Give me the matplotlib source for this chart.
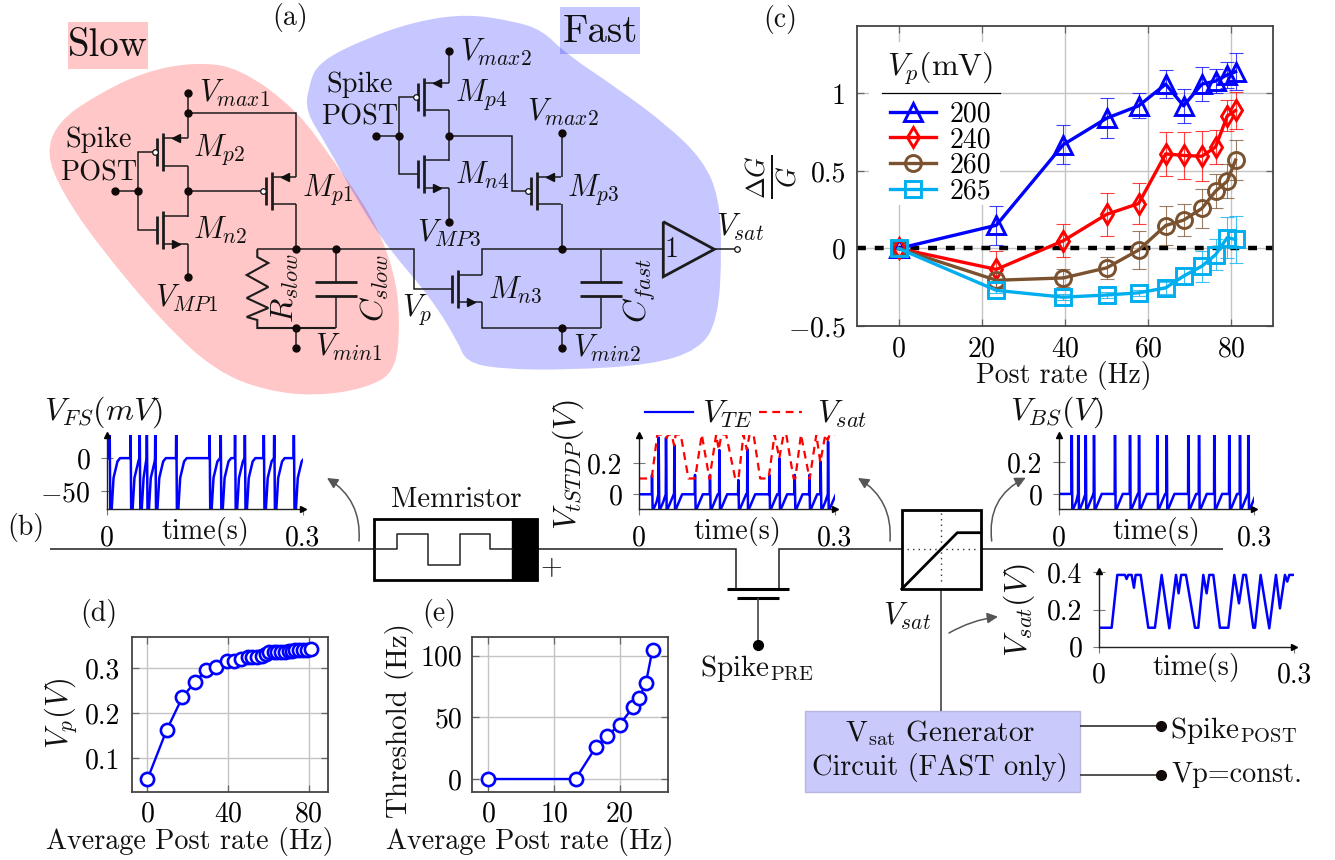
import matplotlib
matplotlib.use('Agg')
import matplotlib.pyplot as plt
from matplotlib.path import Path
from matplotlib.patches import PathPatch, Rectangle

W, H = 1335, 860
plt.rcParams['font.family'] = ['cmr10', 'DejaVu Serif']
plt.rcParams['mathtext.fontset'] = 'cm'
plt.rcParams['axes.unicode_minus'] = False
plt.rcParams['axes.formatter.use_mathtext'] = True

# panel (c)
rate = [0, 23.5, 39.6, 50, 57.7, 64.2, 68.5, 72.9, 76.2, 79, 81]
g200 = [0, 0.15, 0.67, 0.84, 0.92, 1.06, 0.92, 1.06, 1.08, 1.12, 1.14]
g240 = [0, -0.135, 0.05, 0.22, 0.29, 0.61, 0.60, 0.595, 0.655, 0.855, 0.89]
g260 = [0, -0.205, -0.19, -0.125, -0.01, 0.148, 0.183, 0.258, 0.37, 0.434, 0.57]
g265 = [0, -0.27, -0.314, -0.30, -0.286, -0.254, -0.178, -0.114, -0.04, 0.07, 0.058]
e200 = [0, 0.125, 0.125, 0.13, 0.08, 0.09, 0.11, 0.11, 0.08, 0.085, 0.12]
e240 = [0, 0.12, 0.105, 0.14, 0.13, 0.14, 0.15, 0.16, 0.11, 0.10, 0.12]
e260 = [0, 0.05, 0.06, 0.07, 0.125, 0.125, 0.105, 0.125, 0.11, 0.11, 0.13]
e265 = [0, 0.02, 0.02, 0.02, 0.02, 0.04, 0.05, 0.10, 0.10, 0.13, 0.15]

# panel (d)
d_rate = [0, 9.5, 17.3, 23.5, 29, 34, 39.5, 43, 46.5, 50, 52, 54.5, 57, 59, 60.5, 62.5,
          64, 66, 68, 70, 71.5, 73, 75, 77, 79, 81]
d_vp = [0.053, 0.162, 0.235, 0.269, 0.295, 0.302, 0.315, 0.316, 0.32, 0.324, 0.325, 0.326,
        0.328, 0.332, 0.335, 0.335, 0.335, 0.336, 0.337, 0.339, 0.339, 0.34, 0.34, 0.341, 0.341, 0.342]

# panel (e)
e_rate = [0, 13.3, 16.4, 18.1, 20, 22, 23, 24, 25]
e_thr = [0, 0, 26, 35, 44, 58, 66, 78, 105]

# spike traces of panel (b)
fs_spikes = [0.004, 0.036, 0.050, 0.061, 0.074, 0.106, 0.157, 0.174, 0.196, 0.211, 0.240, 0.256, 0.286]
fs_dt = [-0.0005, 0, 0.001, 0.003, 0.006, 0.012, 0.016]
fs_v = [0, 60, -80, -80, -30, -5, 0]
te_spikes = [0.0195, 0.0297, 0.041, 0.0538, 0.0855, 0.1085, 0.1229, 0.152, 0.1659, 0.1997,
             0.215, 0.2386, 0.2611, 0.2785, 0.2898]
te_peaks = [0.125, 0.366, 0.366, 0.318, 0.125, 0.125, 0.286, 0.092, 0.292, 0.125, 0.232,
            0.125, 0.125, 0.21, 0.34]
bs_spikes = [0.019, 0.0292, 0.0405, 0.0533, 0.0856, 0.1087, 0.1226, 0.1508, 0.1651, 0.1985,
             0.2149, 0.2385, 0.2615, 0.2779, 0.2908]
bs_peaks = [0.6] * 15
sat_t = [0, .019, .0277, .0395, .042, .0446, .0497, .0533, .0559, .0636, .0754, .0856, .0959,
         .1077, .118, .122, .126, .1333, .1472, .1523, .16, .1651, .1692, .1754, .1856, .1985,
         .2077, .2149, .2215, .2256, .2369, .2395, .2482, .2615, .2718, .2779, .2856, .2892,
         .2923, .3]
sat_v = [.102, .102, .386, .386, .364, .386, .386, .317, .386, .386, .102, .102, .386,
         .099, .386, .287, .386, .386, .102, .102, .386, .287, .386, .386, .102, .102,
         .386, .233, .386, .386, .102, .102, .386, .099, .386, .206, .386, .35,
         .386, .386]

fig = plt.figure(figsize=(W / 100, H / 100), dpi=100)


def px_axes(l, t, r, b, z=2):
    return fig.add_axes([l / W, 1 - b / H, (r - l) / W, (b - t) / H], zorder=z)


ov = px_axes(0, 0, W, H, 0)
top = px_axes(0, 0, W, H, 5)
for a in (ov, top):
    a.set_xlim(0, W)
    a.set_ylim(H, 0)
    a.axis('off')


def T(x, y, s, size=20.3, rot=0, ha='center'):
    top.text(x, y, s, fontsize=size, rotation=rot, ha=ha, va='center', color='#111111')


def wire(pts, lw=1.1, c='#1c1c1c'):
    ov.plot([p[0] for p in pts], [p[1] for p in pts], color=c, lw=lw,
            solid_capstyle='butt', solid_joinstyle='miter', zorder=4)


def dot(x, y, ms=5):
    ov.plot(x, y, 'o', color='#110808', ms=ms, zorder=5)


def blob(pts, color):
    verts = [((pts[-1][0] + pts[0][0]) / 2, (pts[-1][1] + pts[0][1]) / 2)]
    codes = [Path.MOVETO]
    n = len(pts)
    for i in range(n):
        nxt = pts[(i + 1) % n]
        verts += [pts[i], ((pts[i][0] + nxt[0]) / 2, (pts[i][1] + nxt[1]) / 2)]
        codes += [Path.CURVE3, Path.CURVE3]
    ov.add_patch(PathPatch(Path(verts, codes), facecolor=color, edgecolor='none', alpha=0.22, zorder=1))


def mos(xc, yc, kind):
    rail = xc + 24.7
    wire([(xc, yc - 19), (xc, yc + 19)], 2)
    wire([(xc - 6, yc - 14), (xc - 6, yc + 14)], 2)
    wire([(xc, yc - 14), (rail, yc - 14)])
    wire([(xc, yc + 13.5), (rail, yc + 13.5)])
    if kind == 'p':
        ov.plot(xc + 13, yc - 14, '<', color='#111111', ms=5.5, zorder=5)
        ov.plot(xc - 8.5, yc, 'o', mfc='white', mec='#111111', mew=0.9, ms=4, zorder=6)
    else:
        ov.plot(xc + 13, yc + 13.5, '>', color='#111111', ms=5.5, zorder=5)


def cap(x, y0, y1, half=21):
    wire([(x, y0), (x, 281.7)])
    wire([(x - half, 281.7), (x + half, 281.7)], 2)
    wire([(x - half, 295.7), (x + half, 295.7)], 2)
    wire([(x, 295.7), (x, y1)])


def curved(p0, p1, rad):
    top.annotate('', xy=p1, xytext=p0,
                 arrowprops=dict(arrowstyle='-|>', color='#555555', lw=1.1,
                                 connectionstyle=f'arc3,rad={rad}', mutation_scale=16,
                                 shrinkA=0, shrinkB=0))


# background regions
blob([(195, 62), (240, 68), (297, 110), (333, 160), (373, 217), (395, 273), (400, 320), (396, 371),
      (367, 388), (317, 396), (267, 391), (217, 372), (165, 325), (98, 245), (62, 192), (46, 153),
      (58, 122), (93, 97), (143, 72)], '#ff0000')
blob([(308, 88), (318, 62), (367, 38), (417, 21), (467, 14), (513, 21), (542, 30), (565, 53), (617, 88),
      (667, 125), (703, 160), (719, 197), (722, 250), (718, 320), (699, 350), (650, 365), (567, 370),
      (500, 369), (466, 362), (458, 342), (431, 298), (388, 248), (358, 202), (325, 142), (306, 112)], '#0000ff')
ov.add_patch(Rectangle((68, 22), 80, 47, fc='#ff0000', ec='none', alpha=0.22, zorder=1))
ov.add_patch(Rectangle((560, 7), 80, 47, fc='#0000ff', ec='none', alpha=0.22, zorder=1))
T(108, 46, 'Slow', 28)
T(600, 32, 'Fast', 28)
T(290, 18, '(a)', 20)
T(780, 20, '(c)', 20)
T(26, 527, '(b)', 20)
T(99, 613, '(d)', 20)
T(439, 613, '(e)', 20)

# slow branch
mos(163, 152, 'p')
mos(163, 230, 'n')
mos(271.7, 190.7, 'p')
wire([(187.7, 93), (187.7, 138)])
wire([(187.7, 113.3), (296, 113.3), (296, 176.7)])
wire([(187.7, 165.5), (187.7, 216.5)])
wire([(187.7, 243.5), (187.7, 276.7)])
wire([(115, 190.7), (138.3, 190.7)])
wire([(154, 152), (138.3, 152), (138.3, 230), (157, 230)])
wire([(187.7, 190.7), (263, 190.7)])
wire([(296, 204.2), (296, 249.3)])
wire([(257.3, 249.3), (414.3, 249.3), (414.3, 288.7), (451.7, 288.7)])
wire([(257.3, 249.3), (257.3, 257), (268.3, 263), (246.7, 275), (268.3, 287), (246.7, 298),
      (268.3, 308), (246.7, 317), (257.3, 320), (257.3, 328), (335.7, 328)], 1.5)
cap(335.7, 249.3, 328)
wire([(296, 328), (296, 347.7)])
for p in [(187.7, 93.3), (187.7, 113.3), (187.7, 190.7), (138.3, 190.7), (115, 190.7), (187.7, 276.7),
          (296, 249.3), (335.7, 249.3), (296, 328), (296, 347.7)]:
    dot(*p)

# fast branch
mos(424, 96.7, 'p')
mos(424, 174.3, 'n')
mos(536.7, 190.7, 'p')
mos(457.7, 288.7, 'n')
wire([(449, 51), (449, 83)])
wire([(449, 110), (449, 160.5)])
wire([(449, 188), (449, 221.7)])
wire([(376, 135.7), (399.3, 135.7)])
wire([(415, 96.7), (399.3, 96.7), (399.3, 174.3), (418.3, 174.3)])
wire([(449, 135.7), (512.3, 135.7), (512.3, 190.7), (528, 190.7)])
wire([(561.7, 132.7), (561.7, 176.7)])
wire([(561.7, 204.2), (561.7, 249.3)])
wire([(482.4, 275), (482.4, 249.3), (663.3, 249.3)])
wire([(482.4, 302), (482.4, 328), (600.7, 328)])
cap(600.7, 249.3, 328)
wire([(561.7, 328), (561.7, 347.7)])
wire([(663.3, 221.7), (663.3, 276.7), (714.3, 249.3), (663.3, 221.7)], 2)
wire([(714.3, 249.3), (735, 249.3)])
ov.plot(736.7, 249.3, 'o', mfc='white', mec='#111111', mew=0.9, ms=4, zorder=6)
for p in [(449, 51), (399.3, 135.7), (376, 135.7), (449, 135.7), (449, 221.7), (561.7, 132.7),
          (561.7, 249.3), (561.7, 328), (561.7, 347.7)]:
    dot(*p)

T(99, 140, 'Spike')
T(99, 173, 'POST')
T(360, 85, 'Spike')
T(360, 117, 'POST')
for x, y, s in [(199, 93, r'$V_{max1}$'), (193, 150, r'$M_{p2}$'), (193, 230, r'$M_{n2}$'), (301.7, 190, r'$M_{p1}$'),
                (155, 298, r'$V_{MP1}$'), (315, 347, r'$V_{min1}$'), (402, 310, r'$V_p$'),
                (460, 52, r'$V_{max2}$'), (455, 95, r'$M_{p4}$'), (455, 175, r'$M_{n4}$'), (416.7, 233, r'$V_{MP3}$'),
                (526.7, 112, r'$V_{max2}$'), (566.7, 190, r'$M_{p3}$'), (488, 290, r'$M_{n3}$'),
                (573, 348, r'$V_{min2}$'), (716, 227, r'$V_{sat}$')]:
    T(x, y, s, 22, ha='left')
T(285, 288, r'$R_{slow}$', 23, 90)
T(375, 288, r'$C_{slow}$', 23, 90)
T(640, 290, r'$C_{fast}$', 23, 90)
T(672, 249.5, '1', 20)

# panel (b) wiring
wire([(50, 549.3), (736, 549.3), (736, 588.7)])
wire([(779, 588.7), (779, 549.3), (1223, 549.3)])
ov.add_patch(Rectangle((374, 519), 163, 61, fc='white', ec='black', lw=2, zorder=6))
ov.add_patch(Rectangle((512, 519), 25, 61, fc='black', ec='black', lw=1, zorder=6))
ov.plot([374, 397, 397, 428, 428, 460, 460, 490, 490, 512],
        [549.3, 549.3, 534, 534, 564.7, 564.7, 534, 534, 549.3, 549.3],
        color='#222222', lw=1.1, zorder=7)
T(456, 500, 'Memristor', 20.8)
T(551, 568, '+', 20)
wire([(727, 588.7), (788.7, 588.7)], 2.2, 'black')
wire([(736.7, 598.3), (779, 598.3)], 2.2, 'black')
wire([(757.7, 598.3), (757.7, 644.7)], 1.2, '#444444')
ov.plot(757.7, 644.7, 'o', color='black', ms=7, zorder=5)
T(757, 669, r'Spike$_{\mathrm{PRE}}$', 21)

ov.add_patch(Rectangle((901.7, 510), 79, 79, fc='white', ec='black', lw=2, zorder=6))
ov.plot([941, 941], [512.7, 583], color='#333333', lw=1, ls=(0, (1, 3)), zorder=7)
ov.plot([906.7, 979], [549.3, 549.3], color='#333333', lw=1, ls=(0, (1, 3)), zorder=7)
ov.plot([901.7, 957.3, 980.7], [589, 532.7, 532.7], color='black', lw=2, zorder=7)
T(907, 616, r'$V_{sat}$', 22)
wire([(941, 589), (941, 711)], 1.2, '#444444')
ov.add_patch(Rectangle((805, 711), 275, 81, fc='#c9c9fb', ec='#b7b7e0', lw=1, zorder=3))
T(940, 733, r'V$_{\mathrm{sat}}$ Generator', 21)
T(940, 767, 'Circuit (FAST only)', 20.4)
wire([(1080, 726), (1161, 726)])
wire([(1080, 774.7), (1161, 774.7)], 1.3, '#444444')
dot(1161, 726, 7)
dot(1161, 774.7, 7)
T(1170, 730, r'Spike$_{\mathrm{POST}}$', 21, ha='left')
T(1171, 775, 'Vp=const.', 20.3, ha='left')

curved((359, 541), (327, 478), 0.3)
curved((890, 541), (858, 478), 0.3)
curved((991.7, 541), (1025.7, 477.7), -0.35)
curved((949, 633), (998, 616.7), -0.1)


def pulses(times, peaks, low):
    t, v = [0], [0]
    for i, s in enumerate(times):
        next_s = times[i + 1] if i + 1 < len(times) else 1
        for dt, val in [(-0.0004, 0), (0, peaks[i]), (0.001, low), (0.002, low), (0.007, low / 2), (0.012, 0)]:
            if s + dt < next_s - 0.0004:
                t.append(s + dt)
                v.append(val)
    t.append(0.32)
    v.append(0)
    return t, v


def mini(l, t, r, b, ylim, ticks, labels, cx, lab_y):
    ax = px_axes(l, t, r, b)
    ax.patch.set_visible(False)
    ax.set_xlim(0, 0.3)
    ax.set_ylim(*ylim)
    for side in ('top', 'right'):
        ax.spines[side].set_visible(False)
    for side in ('left', 'bottom'):
        ax.spines[side].set_linewidth(1)
        ax.spines[side].set_color('#222222')
    ax.set_yticks(ticks)
    ax.set_yticklabels(labels)
    ax.set_xticks([0, 0.3])
    ax.set_xticklabels(['0', '0.3'])
    ax.tick_params(axis='y', direction='inout', length=8, width=0.8, color='#777777', labelsize=20, pad=8)
    ax.tick_params(axis='x', direction='out', length=4, width=0.8, color='#777777', labelsize=20, pad=7.3)
    ax.plot(1, 0, '>', color='black', ms=5, transform=ax.transAxes, clip_on=False, zorder=8)
    ax.plot(0, 1, '^', color='black', ms=5, transform=ax.transAxes, clip_on=False, zorder=8)
    T(cx, lab_y, 'time(s)', 20.3)
    return ax


# V_FS
ax = mini(107, 435, 303, 509, (-77, 35), [-50, 0], [r'$-50$', '0'], 205, 531)
t, v = [0], [0]
for i, s in enumerate(fs_spikes):
    next_s = fs_spikes[i + 1] if i + 1 < len(fs_spikes) else 1
    for dt, val in zip(fs_dt, fs_v):
        if s + dt < next_s - 0.0005:
            t.append(s + dt)
            v.append(val)
ax.plot(t, v, color='#0000ff', lw=1.8)
T(104, 412, r'$V_{FS}(mV)$', 23)

# V_tSTDP
ax = mini(639.3, 435, 834.7, 509.3, (-0.097, 0.383), [0, 0.2], ['0', '0.2'], 737, 531)
t, v = pulses(te_spikes, te_peaks, -0.1)
ax.plot(t, v, color='#0000ff', lw=1.8)
ax.plot(sat_t, sat_v, color='#ff0000', lw=1.6, ls=(0, (3.5, 2.5)))
T(568, 465, r'$V_{tSTDP}(V)$', 23, 90)
top.plot([645, 693], [412, 412], color='#0000ff', lw=1.6)
top.plot([759, 802], [412, 412], color='#ff0000', lw=1.6, ls=(0, (3.5, 2.5)))
T(702, 414, r'$V_{TE}$', 23, ha='left')
T(817, 414, r'$V_{sat}$', 23, ha='left')

# V_BS
ax = mini(1059.3, 435, 1254.3, 509.3, (-0.097, 0.372), [0, 0.2], ['0', '0.2'], 1156, 531)
t, v = pulses(bs_spikes, bs_peaks, -0.1)
ax.plot(t, v, color='#0000ff', lw=1.8)
T(1057, 412, r'$V_{BS}(V)$', 23)

# V_sat
ax = mini(1099.3, 571, 1294.3, 646.7, (0, 0.407), [0, 0.2, 0.4], ['0', '0.2', '0.4'], 1196, 668)
ax.plot(sat_t, sat_v, color='#0000ff', lw=1.8)
T(1019, 610, r'$V_{sat}(V)$', 23, 90)


def boxed(l, t, r, b, xlim, ylim, xticks, yticks, ylabels, pad_y, pad_x):
    ax = px_axes(l, t, r, b, 3)
    ax.set_xlim(*xlim)
    ax.set_ylim(*ylim)
    ax.set_xticks(xticks)
    ax.set_yticks(yticks)
    ax.set_yticklabels(ylabels)
    ax.grid(True, color='#c4c4c4', lw=1)
    ax.set_axisbelow(True)
    ax.tick_params(direction='in', top=True, right=True, length=5, width=0.9, color='#666666', labelsize=20)
    ax.tick_params(axis='y', pad=pad_y)
    ax.tick_params(axis='x', pad=pad_x)
    for s in ax.spines.values():
        s.set_color('#444444')
        s.set_linewidth(1.3)
    return ax


# panel (c)
ax = boxed(857, 26, 1273, 326, (-10, 90), (-0.5, 1.435), [0, 20, 40, 60, 80], [-0.5, 0, 0.5, 1],
           [r'$-0.5$', '0', '0.5', '1'], 8, 7)
ax.add_patch(Rectangle((869, 42), 131, 163, fc='white', ec='none', transform=ov.transData, zorder=1.5))
ax.axhline(0, color='black', lw=3.2, ls=(0, (2, 2)), zorder=2)
styles = [(g200, e200, '#0000ff', '^', 13, '200'), (g240, e240, '#ff0000', 'd', 10.5, '240'),
          (g260, e260, '#7a5230', 'o', 11.5, '260'), (g265, e265, '#00aeef', 's', 11, '265')]
handles = []
for ys, es, col, mk, ms, name in styles:
    ax.errorbar(rate, ys, yerr=es, fmt='none', ecolor=col, elinewidth=0.8, capsize=5, capthick=0.8, alpha=0.75, zorder=3)
    line, = ax.plot(rate, ys, color=col, lw=2.4, marker=mk, ms=ms, mfc='none', mew=2.1, label=name, zorder=4)
    handles.append(line)
leg = ax.legend(handles=handles, loc='upper left', fontsize=20, bbox_to_anchor=(890 / W, 1 - 101 / H),
                bbox_transform=fig.transFigure, borderaxespad=0, borderpad=0, labelspacing=-0.02,
                handlelength=1.65, handletextpad=0.5, frameon=False)
top.plot([882, 1000], [93, 93], color='black', lw=0.9)
T(940, 68, r'$V_p$(mV)', 23)
T(1064, 375, 'Post rate (Hz)', 20)
T(773, 177, r'$\frac{\Delta G}{G}$', 27, 90)

# panel (d)
ax = boxed(131.6, 636.7, 327.8, 791.7, (-7.8, 89.4), (0.0258, 0.37), [0, 40, 80], [0.1, 0.2, 0.3],
           ['0.1', '0.2', '0.3'], 8, 6.5)
ax.plot(d_rate, d_vp, color='#0000ff', lw=1.7, marker='o', ms=9.5, mfc='white', mew=1.9)
T(190, 842, 'Average Post rate (Hz)', 20.3)
T(61, 713, r'$V_p(V)$', 22, 90)

# panel (e)
ax = boxed(471.7, 636.7, 668.3, 791.7, (-2.5, 27.4), (-10.3, 115.4), [0, 10, 20], [0, 50, 100],
           ['0', '50', '100'], 7, 6.5)
ax.plot(e_rate, e_thr, color='#0000ff', lw=1.7, marker='o', ms=9.5, mfc='white', mew=1.9)
T(530, 842, 'Average Post rate (Hz)', 20.3)
T(399, 720, 'Threshold (Hz)', 21, 90)

fig.savefig('out.png', dpi=100)
